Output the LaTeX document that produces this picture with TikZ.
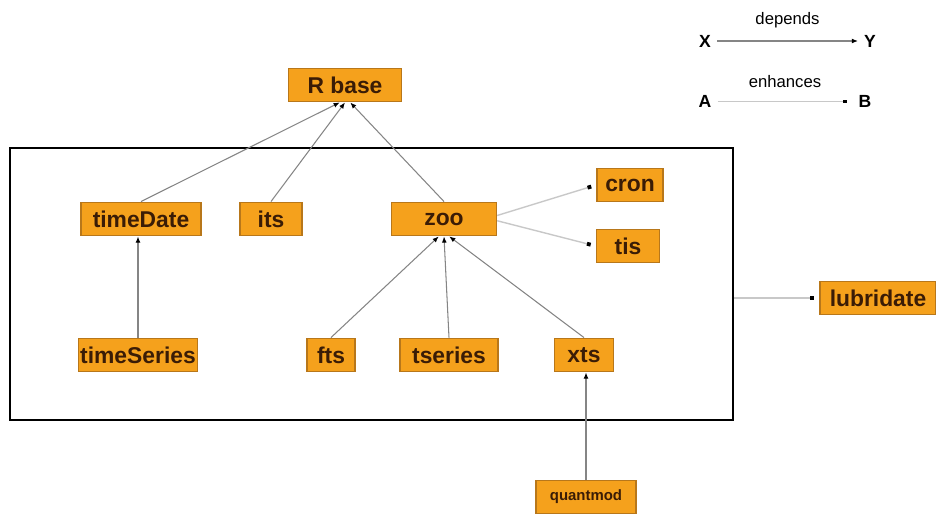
\documentclass[tikz,border=0pt]{standalone}
\usepackage{fontspec}
\setsansfont{Liberation Sans}
\usepackage{tikz}
\usetikzlibrary{shapes,arrows.meta,positioning,calc}

\definecolor{pkgfill}{HTML}{F5A11C}
\definecolor{pkgline}{HTML}{B8771A}
\definecolor{pkgtext}{HTML}{3A1C06}
\definecolor{deplink}{HTML}{858585}
\definecolor{enhlink}{HTML}{C8C8C8}

\begin{document}
\begin{tikzpicture}[auto, node distance=2cm]
\tikzset{
pkg/.style      = {draw=pkgline, fill=pkgfill, text=pkgtext, shape=rectangle, line width=0.8pt, minimum height=0.67cm, inner sep=1pt, font=\sffamily\bfseries\fontsize{13}{15}\selectfont},
frame/.style    = {draw=black, line width=1.6pt, shape=rectangle, minimum width=14.46cm, minimum height=5.44cm},
depends/.style  = {draw=deplink, line width=0.6pt, -{Latex[black, length=3.5pt, width=2.8pt]}},
enhances/.style = {draw=enhlink, line width=0.8pt, -{Square[black, length=2.2pt, width=2.2pt]}, shorten >=3pt},
legend/.style   = {font=\sffamily\bfseries\fontsize{10}{12}\selectfont},
legtext/.style  = {font=\sffamily\fontsize{9.5}{11}\selectfont},
}
    \useasboundingbox (0,0) rectangle (18.72,-10.28);

    % Frame node
    \node [frame]                       (pkgframe)   at (7.43, -5.68)  {};

    % Package nodes
    \node [pkg, minimum width=2.26cm]   (rbase)      at (6.9, -1.7)    {R base};
    \node [pkg, minimum width=2.4cm]    (timedate)   at (2.82, -4.38)  {timeDate};
    \node [pkg, minimum width=1.24cm]   (its)        at (5.42, -4.38)  {its};
    \node [pkg, minimum width=2.1cm]    (zoo)        at (8.88, -4.38)  {zoo};
    \node [pkg, minimum width=1.32cm]   (cron)       at (12.6, -3.7)   {cron};
    \node [pkg, minimum width=1.26cm]   (tis)        at (12.56, -4.92) {tis};
    \node [pkg, minimum width=2.34cm]   (timeseries) at (2.76, -7.1)   {timeSeries};
    \node [pkg, minimum width=0.96cm]   (fts)        at (6.62, -7.1)   {fts};
    \node [pkg, minimum width=1.96cm]   (tseries)    at (8.98, -7.1)   {tseries};
    \node [pkg, minimum width=1.18cm]   (xts)        at (11.68, -7.1)  {xts};
    \node [pkg, minimum width=2cm, font=\sffamily\bfseries\fontsize{8.5}{10}\selectfont]
                                        (quantmod)   at (11.72, -9.94) {quantmod};
    \node [pkg, minimum width=2.32cm]   (lubridate)  at (17.56, -5.96) {lubridate};

    % Depends edges
    \draw [depends] (timedate.north)   -- ([xshift=-3pt]rbase.south);
    \draw [depends] (its.north)        -- ([xshift=0pt]rbase.south);
    \draw [depends] (zoo.north)        -- ([xshift=3pt]rbase.south);
    \draw [depends] (timeseries.north) -- (timeseries.north |- timedate.south);
    \draw [depends] (fts.north)        -- ([xshift=-3pt]zoo.south);
    \draw [depends] (tseries.north)    -- ([xshift=0pt]zoo.south);
    \draw [depends] (xts.north)        -- ([xshift=3pt]zoo.south);
    \draw [depends] (quantmod.north)   -- (quantmod.north |- xts.south);

    % Enhances edges
    \draw [enhances] ([yshift=2pt]zoo.east)  -- (cron.west);
    \draw [enhances] ([yshift=-1pt]zoo.east) -- (tis.west);
    \draw [enhances] (pkgframe.east |- lubridate) -- (lubridate.west);

    % Legend nodes
    \node [legend]  (legx)  at (14.1, -0.82)  {X};
    \node [legend]  (legy)  at (17.4, -0.82)  {Y};
    \node [legend]  (lega)  at (14.1, -2.03)  {A};
    \node [legend]  (legb)  at (17.3, -2.03)  {B};

    % Legend edges
    \draw [depends]  (legx) -- node[legtext, above=0.14cm, text=black] {depends}  (legy);
    \draw [enhances] (lega) -- node[legtext, above=0.14cm, text=black] {enhances} (legb);

\end{tikzpicture}
\end{document}
